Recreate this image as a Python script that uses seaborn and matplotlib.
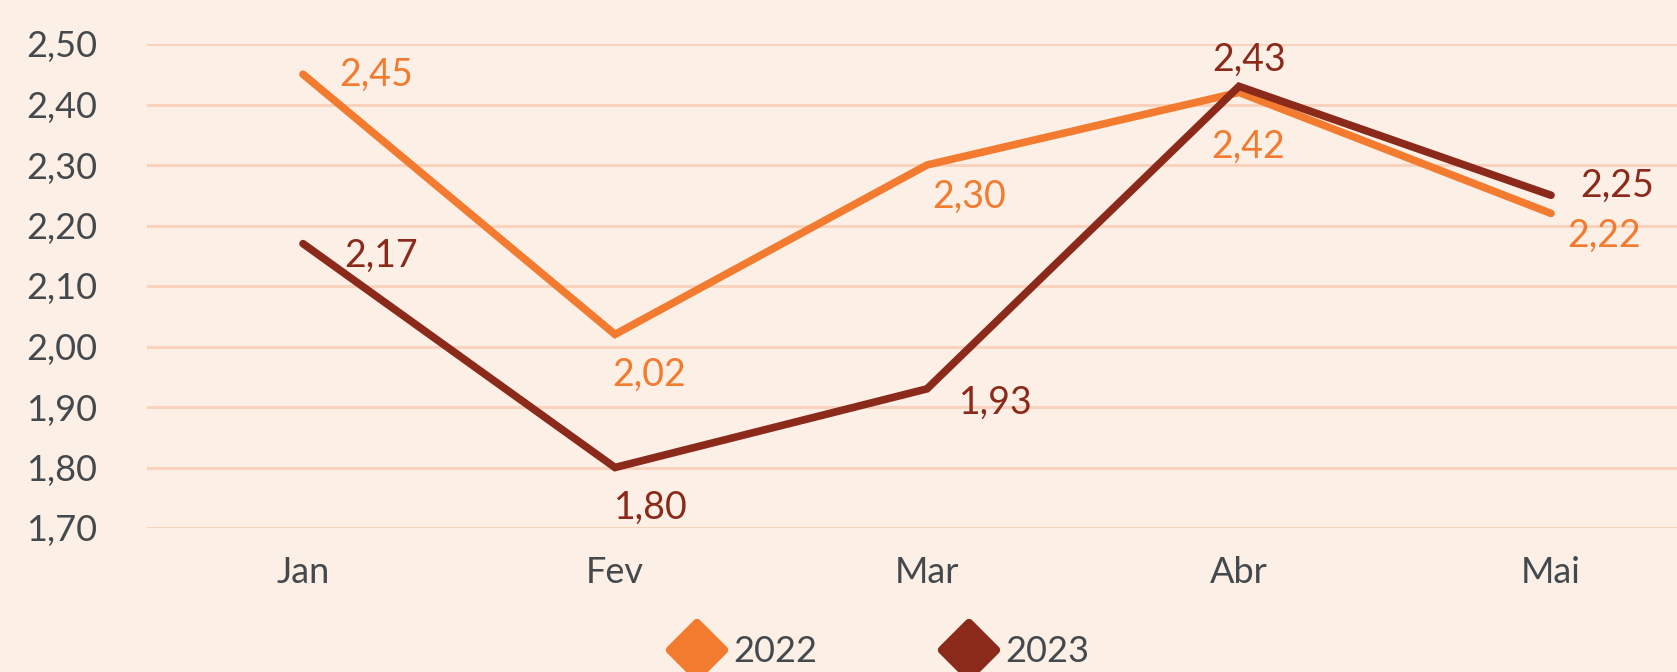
import matplotlib
matplotlib.use("Agg")
import matplotlib.pyplot as plt
import seaborn as sns
import pandas as pd
from matplotlib.lines import Line2D
from matplotlib.markers import MarkerStyle

months = ["Jan", "Fev", "Mar", "Abr", "Mai"]
v2022 = [2.45, 2.02, 2.30, 2.42, 2.22]
v2023 = [2.17, 1.80, 1.93, 2.43, 2.25]
series_names = ["2022", "2023"]
yticks = [1.70, 1.80, 1.90, 2.00, 2.10, 2.20, 2.30, 2.40, 2.50]

# label offsets (points) and alignment, layout only
off2022 = [(26, 0, "left", "center"), (-2, -16, "left", "top"), (4, -10, "left", "top"),
           (-20, -26, "left", "top"), (12, -16, "left", "center")]
off2023 = [(30, -9, "left", "center"), (-1, -16, "left", "top"), (23, -10, "left", "center"),
           (7, 6, "center", "bottom"), (21, 7, "left", "center")]

BG = "#FCEFE6"
GRID = "#F9D3BD"
TXT = "#44494D"
colors = {"2022": "#F37B30", "2023": "#8B2A1A"}

sns.set_theme(style="white")
plt.rcParams["font.family"] = ["Lato", "DejaVu Sans"]

df = pd.DataFrame({
    "month": months * 2,
    "value": v2022 + v2023,
    "year": [series_names[0]] * 5 + [series_names[1]] * 5,
})

fig = plt.figure(figsize=(16.77, 6.72), dpi=100, facecolor=BG)
ax = fig.add_axes([147 / 1677, 1 - 528 / 672, 1560 / 1677, 484 / 672])
ax.set_facecolor(BG)

sns.lineplot(data=df, x="month", y="value", hue="year", palette=colors, ax=ax,
             linewidth=5.5, legend=False, sort=False)
for line in ax.lines:
    line.set_solid_capstyle("round")
    line.set_solid_joinstyle("miter")

ax.set_xlim(-0.5, 4.5)
ax.set_ylim(1.70, 2.50)
ax.set_yticks(yticks)
ax.set_yticklabels([f"{t:.2f}".replace(".", ",") for t in yticks])
ax.yaxis.grid(True, color=GRID, linewidth=2.2)
ax.set_axisbelow(True)
for s in ax.spines.values():
    s.set_visible(False)
ax.tick_params(axis="y", length=0, pad=36, labelsize=26, labelcolor=TXT)
ax.tick_params(axis="x", length=0, pad=20, labelsize=26, labelcolor=TXT)
ax.set_xlabel("")
ax.set_ylabel("")

for vals, offs, name in [(v2022, off2022, "2022"), (v2023, off2023, "2023")]:
    for i, (v, (dx, dy, ha, va)) in enumerate(zip(vals, offs)):
        ax.annotate(f"{v:.2f}".replace(".", ","), (i, v), xytext=(dx, dy),
                    textcoords="offset points", ha=ha, va=va, fontsize=27,
                    color=colors[name], annotation_clip=False)

ms = MarkerStyle("D", joinstyle="round")
handles = [Line2D([], [], linestyle="none", marker=ms, markersize=28,
                  markerfacecolor=colors[n], markeredgecolor=colors[n],
                  markeredgewidth=6) for n in series_names]
fig.legend(handles, series_names, loc="center", bbox_to_anchor=(0.526, 0.03),
           ncol=2, frameon=False, fontsize=26, labelcolor=TXT,
           columnspacing=3.6, handletextpad=0.4, handlelength=1.2)

fig.savefig("out.png", dpi=100, facecolor=BG)
